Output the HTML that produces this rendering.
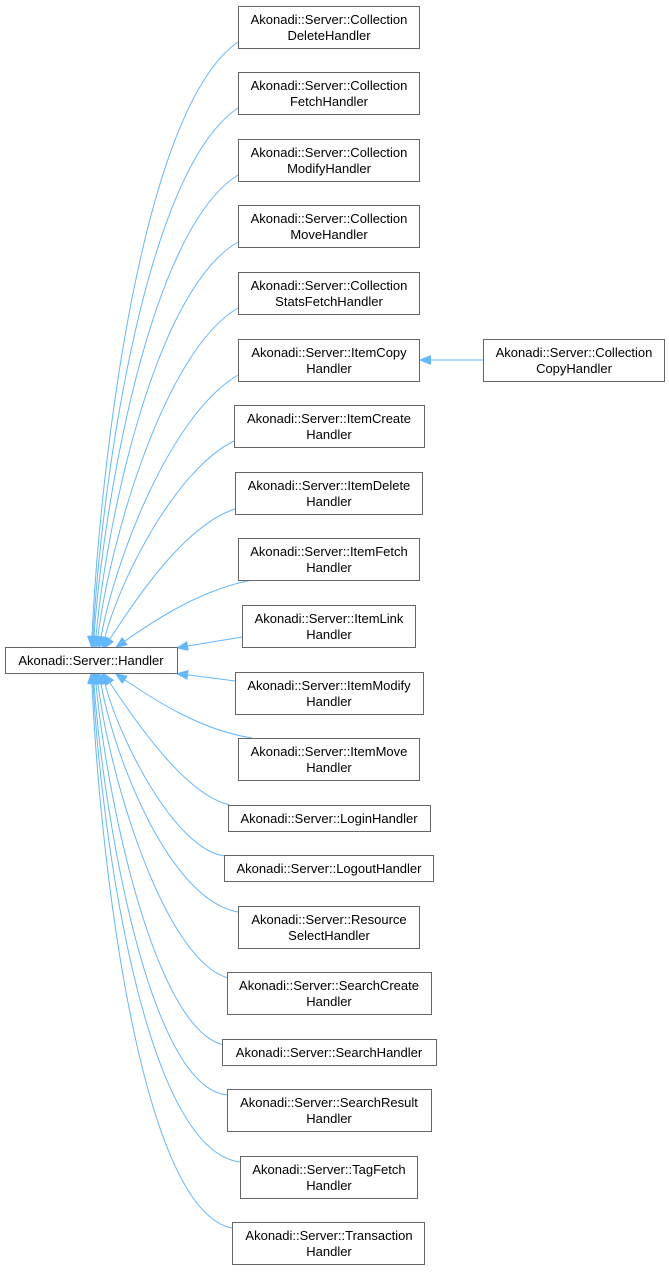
<!DOCTYPE html>
<html><head><meta charset="utf-8"><style>
html,body{margin:0;padding:0;background:#fff;}
svg{display:block;}
text{font-family:"Liberation Sans",Arial,sans-serif;font-size:13px;fill:#000;}
</style></head><body>
<svg width="669" height="1272" viewBox="0 0 669 1272" xmlns="http://www.w3.org/2000/svg">
<defs>
<marker id="a" markerWidth="12" markerHeight="10" refX="0" refY="4.5" orient="auto" markerUnits="userSpaceOnUse">
<path d="M0,0 L11,4.5 L0,9 z" fill="#63b8ff" stroke="#63b8ff"/>
</marker>
</defs>
<g fill="none" stroke="#63b8ff" stroke-width="1" marker-end="url(#a)">
<path d="M238,42 C140,110 100,470 92,636"/>
<path d="M238,108 C145,170 102,480 93,636"/>
<path d="M238,175 C150,230 104,500 94,636"/>
<path d="M238,242 C155,290 107,520 96,636"/>
<path d="M238,308 C165,350 110,540 98,636"/>
<path d="M238,375 C170,415 115,560 101,637"/>
<path d="M234,441 C175,470 120,580 105,637"/>
<path d="M235,509 C185,525 135,600 110,639"/>
<path d="M252,580 C200,590 155,620 125,641"/>
<path d="M242,637 C225,640 205,643 188,646"/>
<path d="M235,681 C220,679 205,677 188,675"/>
<path d="M252,738 C200,730 155,700 125,680"/>
<path d="M230,805 C185,795 135,720 110,683"/>
<path d="M225,856 C175,850 120,740 105,684"/>
<path d="M238,912 C170,900 115,760 101,684"/>
<path d="M228,978 C165,960 110,780 98,684"/>
<path d="M224,1045 C155,1030 107,800 96,684"/>
<path d="M228,1095 C150,1090 104,820 94,684"/>
<path d="M240,1162 C145,1150 102,840 93,684"/>
<path d="M232,1228 C140,1210 100,860 92,684"/>
<path d="M483,360 L431,360"/>
</g>
<g fill="#fff" stroke="#666" stroke-width="1">
<rect x="238.5" y="6.5" width="181" height="42"/>
<rect x="238.5" y="72.5" width="181" height="42"/>
<rect x="238.5" y="139.5" width="181" height="42"/>
<rect x="238.5" y="205.5" width="181" height="42"/>
<rect x="238.5" y="272.5" width="181" height="42"/>
<rect x="238.5" y="339.5" width="181" height="42"/>
<rect x="234.5" y="405.5" width="190" height="42"/>
<rect x="235.5" y="472.5" width="187" height="42"/>
<rect x="238.5" y="538.5" width="181" height="42"/>
<rect x="242.5" y="605.5" width="173" height="42"/>
<rect x="235.5" y="672.5" width="188" height="42"/>
<rect x="238.5" y="738.5" width="181" height="42"/>
<rect x="228.5" y="805.5" width="202" height="26"/>
<rect x="224.5" y="855.5" width="209" height="26"/>
<rect x="238.5" y="906.5" width="181" height="42"/>
<rect x="227.5" y="972.5" width="204" height="42"/>
<rect x="222.5" y="1039.5" width="214" height="26"/>
<rect x="227.5" y="1089.5" width="204" height="42"/>
<rect x="240.5" y="1156.5" width="177" height="42"/>
<rect x="232.5" y="1222.5" width="192" height="42"/>
<rect x="483.5" y="339.5" width="181" height="42"/>
<rect x="5.5" y="647.5" width="172" height="26"/>
</g>
<g text-anchor="middle">
<text x="329" y="24">Akonadi::Server::Collection</text><text x="329" y="40">DeleteHandler</text>
<text x="329" y="90">Akonadi::Server::Collection</text><text x="329" y="106">FetchHandler</text>
<text x="329" y="157">Akonadi::Server::Collection</text><text x="329" y="173">ModifyHandler</text>
<text x="329" y="223">Akonadi::Server::Collection</text><text x="329" y="239">MoveHandler</text>
<text x="329" y="290">Akonadi::Server::Collection</text><text x="329" y="306">StatsFetchHandler</text>
<text x="329" y="357">Akonadi::Server::ItemCopy</text><text x="329" y="373">Handler</text>
<text x="329" y="423">Akonadi::Server::ItemCreate</text><text x="329" y="439">Handler</text>
<text x="329" y="490">Akonadi::Server::ItemDelete</text><text x="329" y="506">Handler</text>
<text x="329" y="556">Akonadi::Server::ItemFetch</text><text x="329" y="572">Handler</text>
<text x="329" y="623">Akonadi::Server::ItemLink</text><text x="329" y="639">Handler</text>
<text x="329" y="690">Akonadi::Server::ItemModify</text><text x="329" y="706">Handler</text>
<text x="329" y="756">Akonadi::Server::ItemMove</text><text x="329" y="772">Handler</text>
<text x="329" y="823">Akonadi::Server::LoginHandler</text>
<text x="329" y="873">Akonadi::Server::LogoutHandler</text>
<text x="329" y="924">Akonadi::Server::Resource</text><text x="329" y="940">SelectHandler</text>
<text x="329" y="990">Akonadi::Server::SearchCreate</text><text x="329" y="1006">Handler</text>
<text x="329" y="1057">Akonadi::Server::SearchHandler</text>
<text x="329" y="1107">Akonadi::Server::SearchResult</text><text x="329" y="1123">Handler</text>
<text x="329" y="1174">Akonadi::Server::TagFetch</text><text x="329" y="1190">Handler</text>
<text x="329" y="1240">Akonadi::Server::Transaction</text><text x="329" y="1256">Handler</text>
<text x="574" y="357">Akonadi::Server::Collection</text><text x="574" y="373">CopyHandler</text>
<text x="91" y="665">Akonadi::Server::Handler</text>
</g>
</svg>
</body></html>
